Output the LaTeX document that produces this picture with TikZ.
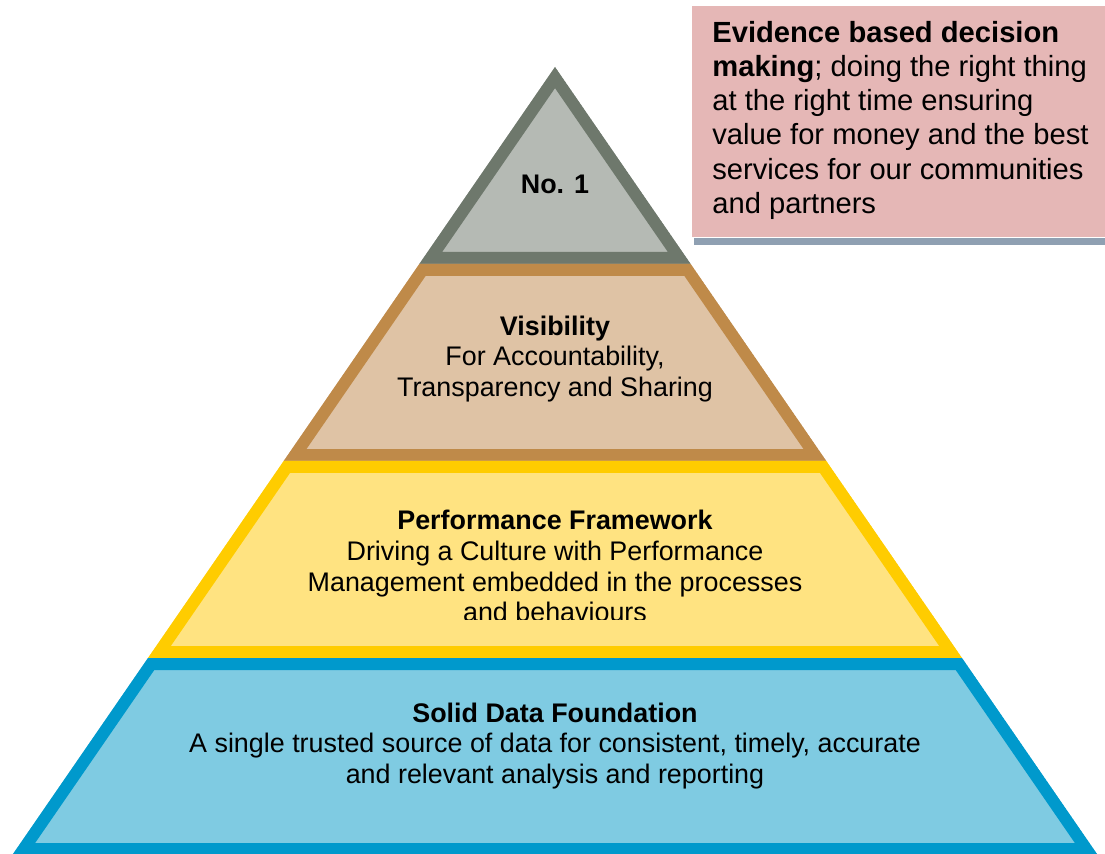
\documentclass[tikz,border=0pt]{standalone}
\usepackage{fontspec}
\setmainfont{Liberation Sans}
\usetikzlibrary{positioning}
\definecolor{TierGrey}{HTML}{6E786C}
\definecolor{TierGreyFill}{HTML}{B5BAB4}
\definecolor{TierBrown}{HTML}{BF8A49}
\definecolor{TierBrownFill}{HTML}{DFC3A5}
\definecolor{TierGold}{HTML}{FFCC00}
\definecolor{TierGoldFill}{HTML}{FFE381}
\definecolor{TierBlue}{HTML}{0099CC}
\definecolor{TierBlueFill}{HTML}{7FCBE2}
\definecolor{NotePink}{HTML}{E5B7B6}
\definecolor{NoteShadow}{HTML}{8FA0B2}

\begin{document}
\begin{tikzpicture}[
    x=0.02cm, y=-0.02cm,
    tier/.style 2 args={
      draw=#1,
      fill=#2,
      line width=0.48cm,
      line join=miter
    },
    tiertext/.style={
      align=center,
      inner sep=0pt,
      font=\fontsize{15.3}{17.6}\selectfont
    },
    note/.style={
      fill=NotePink,
      anchor=north west,
      minimum width=8.26cm,
      minimum height=4.62cm,
      inner sep=0pt
    },
    notetext/.style={
      anchor=west,
      align=left,
      inner sep=0pt,
      font=\fontsize{16.6}{19.45}\selectfont
    }]

    \useasboundingbox (0,0) rectangle (1105,854);

    % Corners of the pyramid tiers
    \coordinate (apex) at (555,67);
    \coordinate (t1l) at (419.3,264);  \coordinate (t1r) at (690.7,264);
    \coordinate (t2l) at (283.7,461);  \coordinate (t2r) at (826.3,461);
    \coordinate (t3l) at (148,658);    \coordinate (t3r) at (962,658);
    \coordinate (t4l) at (12.3,855);   \coordinate (t4r) at (1097.7,855);

    % Tier 1: top triangle
    \begin{scope}
      \clip (apex) -- (t1r) -- (t1l) -- cycle;
      \draw[tier={TierGrey}{TierGreyFill}] (apex) -- (t1r) -- (t1l) -- cycle;
    \end{scope}

    % Tier 2: Visibility
    \begin{scope}
      \clip (t1l) -- (t1r) -- (t2r) -- (t2l) -- cycle;
      \draw[tier={TierBrown}{TierBrownFill}] (t1l) -- (t1r) -- (t2r) -- (t2l) -- cycle;
    \end{scope}

    % Tier 3: Performance
    \begin{scope}
      \clip (t2l) -- (t2r) -- (t3r) -- (t3l) -- cycle;
      \draw[tier={TierGold}{TierGoldFill}] (t2l) -- (t2r) -- (t3r) -- (t3l) -- cycle;
    \end{scope}

    % Tier 4: Data foundation
    \begin{scope}
      \clip (t3l) -- (t3r) -- (t4r) -- (t4l) -- cycle;
      \draw[tier={TierBlue}{TierBlueFill}] (t3l) -- (t3r) -- (t4r) -- (t4l) -- cycle;
    \end{scope}

    % Tier labels
    \node[tiertext] (top) at (555,184) {\bfseries No. 1};

    \node[tiertext] (vis) at (555,359) {
      \textbf{Visibility}\\
      For Accountability,\\
      Transparency and Sharing
    };

    \begin{scope}
      \clip (0,0) rectangle (1105,619);
      \node[tiertext] (perf) at (555,566) {
        \textbf{Performance Framework}\\
        Driving a Culture with Performance\\
        Management embedded in the processes\\
        and behaviours
      };
    \end{scope}

    \node[tiertext] (data) at (555,746) {
      \textbf{Solid Data Foundation}\\
      A single trusted source of data for consistent, timely, accurate\\
      and relevant analysis and reporting
    };

    % Callout box with its shadow strip
    \node[note] (note) at (692,6) {};
    \fill[NoteShadow] ([xshift=0.04cm]note.south west) rectangle ([yshift=-0.14cm]note.south east);
    \node[notetext] (notetxt) at ([xshift=0.4cm,yshift=0.03cm]note.west) {
      \textbf{Evidence based decision}\\
      \textbf{making}; doing the right thing\\
      at the right time ensuring\\
      value for money and the best\\
      services for our communities\\
      and partners
    };
  \end{tikzpicture}
\end{document}
